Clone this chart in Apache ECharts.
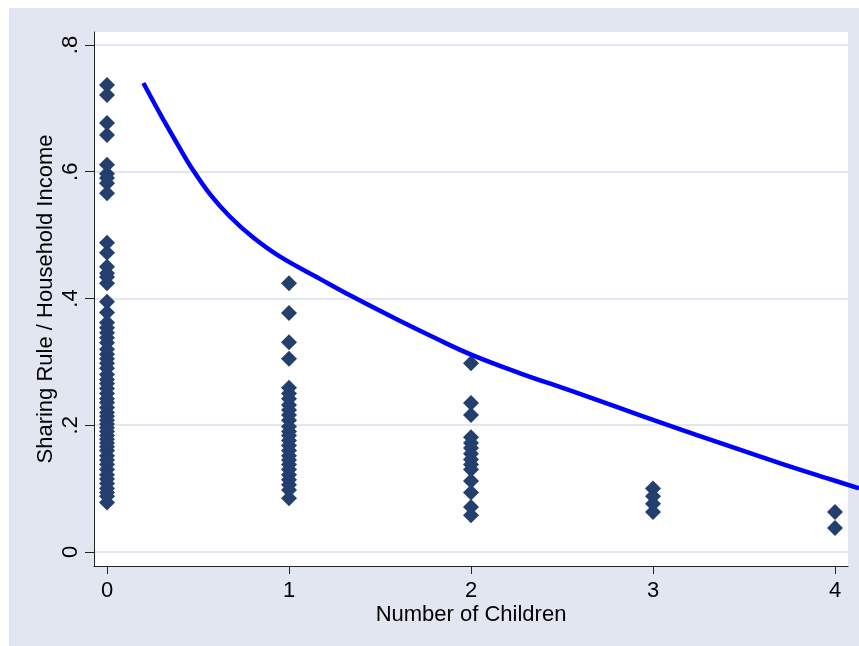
<!DOCTYPE html>
<html>
<head>
<meta charset="utf-8">
<script src="https://cdn.jsdelivr.net/npm/echarts@6/dist/echarts.min.js"></script>
<style>
html,body{margin:0;padding:0;background:#ffffff;}
#chart{position:absolute;left:9px;top:8px;width:850px;height:638px;}
</style>
</head>
<body>
<div id="chart"></div>
<script>
// Data
const xTicks = [0, 1, 2, 3, 4];
const yTicks = [0, 0.2, 0.4, 0.6, 0.8];
const children0 = [0.737, 0.721, 0.677, 0.658, 0.611, 0.597, 0.590, 0.582, 0.566, 0.488, 0.472, 0.450, 0.440, 0.434, 0.424, 0.395, 0.378, 0.362, 0.354, 0.346, 0.338, 0.330, 0.320, 0.312, 0.305, 0.298, 0.290, 0.280, 0.272, 0.266, 0.258, 0.250, 0.242, 0.236, 0.228, 0.220, 0.214, 0.208, 0.202, 0.196, 0.190, 0.184, 0.178, 0.172, 0.166, 0.160, 0.152, 0.145, 0.138, 0.130, 0.122, 0.115, 0.108, 0.100, 0.094, 0.088, 0.078];
const children1 = [0.424, 0.377, 0.331, 0.305, 0.259, 0.250, 0.242, 0.232, 0.224, 0.216, 0.208, 0.198, 0.190, 0.184, 0.176, 0.168, 0.160, 0.152, 0.145, 0.138, 0.130, 0.122, 0.114, 0.106, 0.098, 0.085];
const children2 = [0.298, 0.235, 0.216, 0.181, 0.172, 0.164, 0.155, 0.146, 0.138, 0.130, 0.112, 0.094, 0.071, 0.058];
const children3 = [0.100, 0.088, 0.076, 0.063];
const children4 = [0.063, 0.038];
const curveX = [0.2, 0.26, 0.31, 0.39, 0.474, 0.57, 0.676, 0.8, 0.951, 1.17, 1.335, 1.6, 1.8, 2.004, 2.27, 2.544, 2.8, 3.075, 3.4, 3.7, 3.95, 4.132];
const curveY = [0.740, 0.708, 0.682, 0.642, 0.602, 0.563, 0.529, 0.497, 0.466, 0.431, 0.405, 0.366, 0.338, 0.311, 0.282, 0.255, 0.229, 0.201, 0.169, 0.140, 0.117, 0.1005];

const groups = [children0, children1, children2, children3, children4];
const scatterData = [];
groups.forEach((vals, i) => vals.forEach(v => scatterData.push([xTicks[i], v])));
const curveData = curveX.map((x, i) => [x, curveY[i]]);

const fontFam = '"Liberation Sans", Arial, sans-serif';
const xMin = -0.0714, xMax = 4.0714, yMin = -0.0221, yMax = 0.8205;
// second (invisible) grid spans to the right edge with same scale, so the curve can run past the plot region
const plotW = 850 - 85 - 11;
const xMax2 = xMin + (xMax - xMin) * (850 - 85) / plotW;

const chart = echarts.init(document.getElementById('chart'), null, {renderer: 'canvas'});
chart.setOption({
  backgroundColor: '#e2e6f1',
  animation: false,
  grid: [
    {left: 85, top: 24, right: 11, bottom: 80, show: true, backgroundColor: '#ffffff', borderWidth: 0},
    {left: 85, top: 24, right: 0, bottom: 80, show: false}
  ],
  xAxis: [{
    type: 'value', min: xMin, max: xMax, gridIndex: 0,
    name: 'Number of Children', nameLocation: 'middle', nameGap: 38, nameMoveOverlap: false,
    nameTextStyle: {color: '#000', fontSize: 22, fontFamily: fontFam},
    axisLine: {show: true, onZero: false, lineStyle: {color: '#222', width: 1}},
    axisTick: {show: true, length: 8, customValues: xTicks, lineStyle: {color: '#222'}},
    axisLabel: {customValues: xTicks, margin: 14, color: '#000', fontSize: 22, fontFamily: fontFam},
    splitLine: {show: false}
  }, {
    type: 'value', min: xMin, max: xMax2, gridIndex: 1, show: false
  }],
  yAxis: [{
    type: 'value', min: yMin, max: yMax, gridIndex: 0,
    name: 'Sharing Rule / Household Income', nameLocation: 'middle', nameGap: 37, nameRotate: 90, nameMoveOverlap: false,
    nameTextStyle: {color: '#000', fontSize: 22, fontFamily: fontFam},
    axisLine: {show: true, onZero: false, lineStyle: {color: '#222', width: 1}},
    axisTick: {show: true, length: 9, customValues: yTicks, lineStyle: {color: '#222'}},
    axisLabel: {customValues: yTicks, rotate: 90, margin: 12, color: '#000', fontSize: 22, fontFamily: fontFam,
      formatter: v => (Math.abs(v) < 1e-9 ? '0' : String(+v.toFixed(1)).replace(/^0\./, '.'))},
    splitLine: {show: true, lineStyle: {color: '#e2e6f1', width: 2}}
  }, {
    type: 'value', min: yMin, max: yMax, gridIndex: 1, show: false
  }],
  series: [
    {type: 'scatter', data: scatterData, symbol: 'diamond', symbolSize: 16,
     xAxisIndex: 0, yAxisIndex: 0,
     itemStyle: {color: '#243f6e', opacity: 1}, z: 3},
    {type: 'line', data: curveData, smooth: 0.4, showSymbol: false, clip: false,
     xAxisIndex: 1, yAxisIndex: 1,
     lineStyle: {color: '#0000ff', width: 4.5}, z: 4}
  ]
});
</script>
</body>
</html>
